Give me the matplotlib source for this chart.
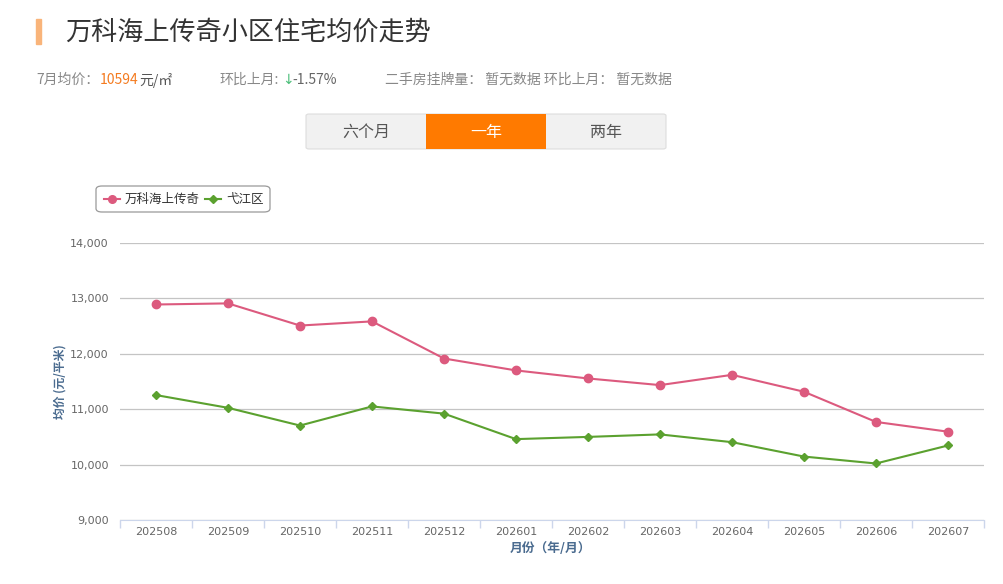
import matplotlib
matplotlib.use("Agg")
import matplotlib.pyplot as plt
from matplotlib.patches import Rectangle, FancyBboxPatch
from matplotlib.lines import Line2D

plt.rcParams['font.family'] = ['Noto Sans CJK SC', 'DejaVu Sans']

months = ["202508", "202509", "202510", "202511", "202512", "202601",
          "202602", "202603", "202604", "202605", "202606", "202607"]
wanke = [12890, 12910, 12510, 12585, 11915, 11700,
         11555, 11435, 11620, 11315, 10770, 10594]
yijiang = [11255, 11025, 10705, 11050, 10920, 10460,
           10500, 10545, 10405, 10145, 10020, 10345]
series_names = ["万科海上传奇", "弋江区"]
yticks = [9000, 10000, 11000, 12000, 13000, 14000]
tabs = ["六个月", "一年", "两年"]

PINK = "#dc5a7e"
GREEN = "#5ba12f"
W, H = 1004, 584

fig = plt.figure(figsize=(W / 100, H / 100), dpi=100)

def px(x, y):
    return x / W, 1 - y / H

# ---- header ----
fig.patches.append(Rectangle(px(36, 44), 5 / W, 25 / H, transform=fig.transFigure,
                             color="#f9b47a", zorder=2))
fig.text(*px(65, 32), "万科海上传奇小区住宅均价走势", fontsize=18.8, color="#333333",
         va="center", ha="left")

fig.text(*px(36, 80), "7月均价：", fontsize=10, color="#888888", va="center")
fig.text(*px(100, 80), "10594", fontsize=10, color="#f47b20", va="center")
fig.text(*px(139, 80), "元/㎡", fontsize=10, color="#555555", va="center")
fig.text(*px(219, 80), "环比上月:", fontsize=10, color="#888888", va="center")
fig.text(*px(282, 80), "↓", fontsize=10, color="#4cbf7a", va="center",
         family=['DejaVu Sans'])
fig.text(*px(292, 80), "-1.57%", fontsize=10, color="#666666", va="center")
fig.text(*px(385, 80), "二手房挂牌量： 暂无数据 环比上月： 暂无数据", fontsize=10,
         color="#888888", va="center")

# ---- tab buttons ----
fig.patches.append(FancyBboxPatch(px(306, 149), 360 / W, 35 / H, transform=fig.transFigure,
                                  boxstyle="round,pad=0,rounding_size=0.003",
                                  facecolor="#f1f1f1", edgecolor="#dddddd", lw=0.8))
for i, t in enumerate(tabs):
    x0 = 306 + i * 120
    active = i == 1
    if active:
        fig.patches.append(Rectangle(px(x0, 149), 120 / W, 35 / H, transform=fig.transFigure,
                                     facecolor="#ff7a00", edgecolor="none"))
    fig.text(*px(x0 + 60, 132), t, fontsize=11.5, ha="center", va="center",
             color="white" if active else "#555555")

# ---- chart ----
ax = fig.add_axes([120 / W, 1 - 520 / H, 864 / W, 277 / H])
x = list(range(len(months)))
ax.plot(x, wanke, color=PINK, lw=1.5, marker="o", ms=6, zorder=3)
ax.plot(x, yijiang, color=GREEN, lw=1.5, marker="D", ms=4.2, zorder=3)

ax.set_xlim(-0.5, len(months) - 0.5)
ax.set_ylim(9000, 14000)
ax.set_yticks(yticks)
ax.set_yticklabels([f"{v:,}" for v in yticks], family=['DejaVu Sans'])
ax.set_xticks(x)
ax.set_xticklabels(months, family=['DejaVu Sans'])
ax.set_xticks([i - 0.5 for i in range(len(months) + 1)], minor=True)
ax.tick_params(axis="x", which="major", length=0, pad=5, labelsize=8, labelcolor="#666666")
ax.tick_params(axis="x", which="minor", length=6, color="#ccd6eb", width=1)
ax.tick_params(axis="y", length=0, pad=8, labelsize=8, labelcolor="#666666")
ax.grid(axis="y", color="#c4c4c4", lw=0.9)
for s in ["top", "right", "left"]:
    ax.spines[s].set_visible(False)
ax.spines["bottom"].set_color("#ccd6eb")
ax.set_axisbelow(True)

fig.text(*px(60, 382), "均价 (元/平米)", rotation=90, fontsize=8.5, color="#4a6b8f",
         fontweight="bold", ha="center", va="center")
fig.text(*px(550, 549), "月份（年/月）", fontsize=9.2, color="#4a6b8f",
         fontweight="bold", ha="center", va="center")

# ---- legend ----
fig.patches.append(FancyBboxPatch(px(96, 212), 174 / W, 26 / H, transform=fig.transFigure,
                                  boxstyle="round,pad=0,rounding_size=0.006",
                                  facecolor="white", edgecolor="#999999", lw=0.9))
for lx, name, col, mk, ms in [(104, series_names[0], PINK, "o", 5.5), (205, series_names[1], GREEN, "D", 4)]:
    fig.add_artist(Line2D([lx / W, (lx + 16) / W], [1 - 199 / H] * 2, color=col, lw=1.5,
                          transform=fig.transFigure))
    fig.add_artist(Line2D([(lx + 8) / W], [1 - 199 / H], color=col, marker=mk, ms=ms,
                          transform=fig.transFigure))
    fig.text(*px(lx + 21, 199), name, fontsize=9, color="#333333", va="center")

fig.savefig("out.png", dpi=100)
